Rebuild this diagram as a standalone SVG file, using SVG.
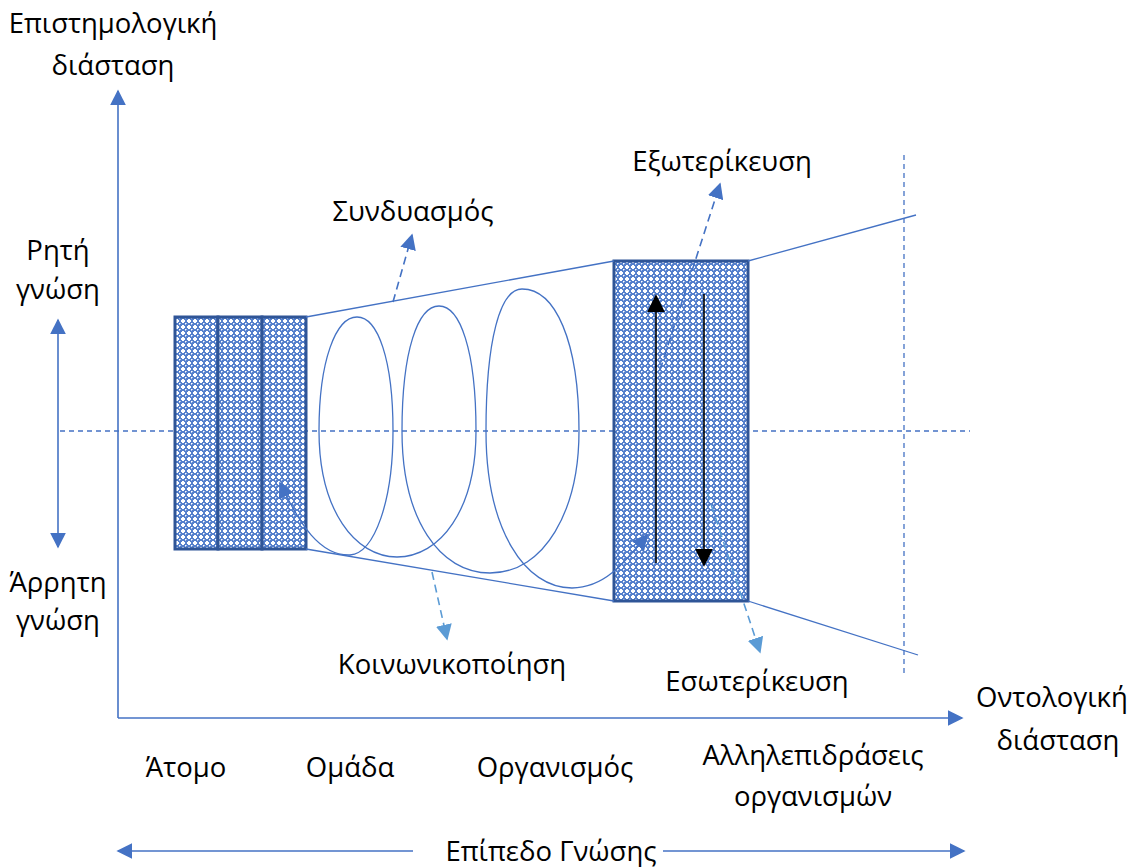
<svg xmlns="http://www.w3.org/2000/svg" width="1137" height="867" viewBox="0 0 1137 867">
  <style>
    text { font-family: "Open Sans", "Noto Sans", "Liberation Sans", sans-serif; font-size: 27.5px; fill: #000; text-anchor: middle; }
    .axis { stroke: #4472C4; stroke-width: 1.6; fill: none; }
    .thin { stroke: #4472C4; stroke-width: 1.3; fill: none; }
    .guide { stroke: #4472C4; stroke-width: 1.3; stroke-dasharray: 5 4; fill: none; }
    .dash { stroke: #4472C4; stroke-width: 1.6; stroke-dasharray: 8 5; fill: none; }
    .dash2 { stroke: #5B9BD5; stroke-width: 1.6; stroke-dasharray: 8 5; fill: none; }
    .box { fill: url(#mesh); stroke: #2F5597; stroke-width: 3; }
    .black { stroke: #000; stroke-width: 1.6; fill: none; }
  </style>
  <defs>
    <!-- blue mesh with small white crosses -->
    <pattern id="mesh" width="6" height="6" patternUnits="userSpaceOnUse">
      <rect width="6" height="6" fill="#5580CC"/>
      <rect x="2" y="1" width="2" height="4" fill="#ffffff"/>
      <rect x="1" y="2" width="4" height="2" fill="#ffffff"/>
      <rect x="5" y="5" width="1" height="1" fill="#ffffff"/>
      <rect x="0" y="5" width="1" height="1" fill="#B5C8EC"/>
      <rect x="5" y="0" width="1" height="1" fill="#B5C8EC"/>
    </pattern>
    <marker id="tri" viewBox="0 0 10 10" refX="9" refY="5" markerWidth="16" markerHeight="16" markerUnits="userSpaceOnUse" orient="auto-start-reverse">
      <path d="M0,0 L10,5 L0,10 Z" fill="#4472C4"/>
    </marker>
    <marker id="triL" viewBox="0 0 10 10" refX="9" refY="5" markerWidth="16" markerHeight="16" markerUnits="userSpaceOnUse" orient="auto-start-reverse">
      <path d="M0,0 L10,5 L0,10 Z" fill="#5B9BD5"/>
    </marker>
    <marker id="triB" viewBox="0 0 10 10" refX="9" refY="5" markerWidth="18" markerHeight="18" markerUnits="userSpaceOnUse" orient="auto-start-reverse">
      <path d="M0,0 L10,5 L0,10 Z" fill="#000"/>
    </marker>
  </defs>

  <!-- guide lines -->
  <g id="guides">
    <line class="guide" x1="60" y1="431" x2="970" y2="431"/>
    <line class="guide" x1="904" y1="155" x2="904" y2="675"/>
  </g>

  <!-- knowledge blocks -->
  <g id="node-individual">
    <rect class="box" x="175" y="317" width="43" height="232"/>
  </g>
  <g id="node-group">
    <rect class="box" x="218" y="317" width="44" height="232"/>
  </g>
  <g id="node-organisation">
    <rect class="box" x="262" y="317" width="44" height="232"/>
  </g>
  <g id="node-interorganisation">
    <rect class="box" x="614" y="261" width="134" height="340"/>
  </g>

  <g id="connectors">
    <!-- axes -->
    <line class="axis" x1="118" y1="718" x2="118" y2="91" marker-end="url(#tri)"/>
    <line class="axis" x1="118" y1="718" x2="962" y2="718" marker-end="url(#tri)"/>
    <line class="axis" x1="58" y1="320" x2="58" y2="547" marker-start="url(#tri)" marker-end="url(#tri)"/>
    <line class="axis" x1="413" y1="851" x2="118" y2="851" marker-end="url(#tri)"/>
    <line class="axis" x1="663" y1="851" x2="964" y2="851" marker-end="url(#tri)"/>

    <!-- funnel outline -->
    <line class="thin" x1="306" y1="317" x2="614" y2="261"/>
    <line class="thin" x1="306" y1="549" x2="614" y2="601"/>
    <line class="thin" x1="748" y1="261" x2="916" y2="215"/>
    <line class="thin" x1="748" y1="601" x2="918" y2="655"/>

    <!-- knowledge spiral -->
    <path class="thin" marker-start="url(#tri)" marker-end="url(#tri)"
      d="M280,483 C300,525 320,556 350,555
         C375,553 393,500 393,431
         C393,360 378,317 357,317
         C336,317 319,360 319,431
         C319,510 355,557 397,557
         C440,557 476,510 476,431
         C476,350 460,306 439,306
         C418,306 402,350 402,431
         C402,520 440,573 490,573
         C545,573 579,510 579,431
         C579,340 555,289 522,289
         C500,289 486,340 486,431
         C486,530 525,588 572,588
         C605,588 625,562 647,535"/>

    <!-- conversion modes -->
    <line class="dash" x1="393" y1="302" x2="412" y2="235" marker-end="url(#tri)"/>
    <line class="dash" x1="660" y1="370" x2="720" y2="184" marker-end="url(#tri)"/>
    <line class="dash2" x1="703" y1="480" x2="760" y2="652" marker-end="url(#triL)"/>
    <line class="dash2" x1="432" y1="572" x2="447" y2="639" marker-end="url(#triL)"/>

    <!-- externalisation / internalisation flow -->
    <line class="black" x1="656" y1="563" x2="656" y2="296" marker-end="url(#triB)"/>
    <line class="black" x1="704" y1="294" x2="704" y2="565" marker-end="url(#triB)"/>
  </g>

  <!-- labels -->
  <g id="labels">
    <text x="113" y="33">Επιστημολογική</text>
    <text x="113" y="75">διάσταση</text>
    <text x="58" y="260">Ρητή</text>
    <text x="58" y="299">γνώση</text>
    <text x="58" y="592">Άρρητη</text>
    <text x="58" y="630">γνώση</text>
    <text x="413" y="221">Συνδυασμός</text>
    <text x="722" y="171">Εξωτερίκευση</text>
    <text x="452" y="674">Κοινωνικοποίηση</text>
    <text x="757" y="691">Εσωτερίκευση</text>
    <text x="1052" y="707">Οντολογική</text>
    <text x="1058" y="750">διάσταση</text>
    <text x="186" y="777">Άτομο</text>
    <text x="350" y="777">Ομάδα</text>
    <text x="555" y="777">Οργανισμός</text>
    <text x="813" y="765">Αλληλεπιδράσεις</text>
    <text x="813" y="806">οργανισμών</text>
    <text x="551" y="861">Επίπεδο Γνώσης</text>
  </g>
</svg>
